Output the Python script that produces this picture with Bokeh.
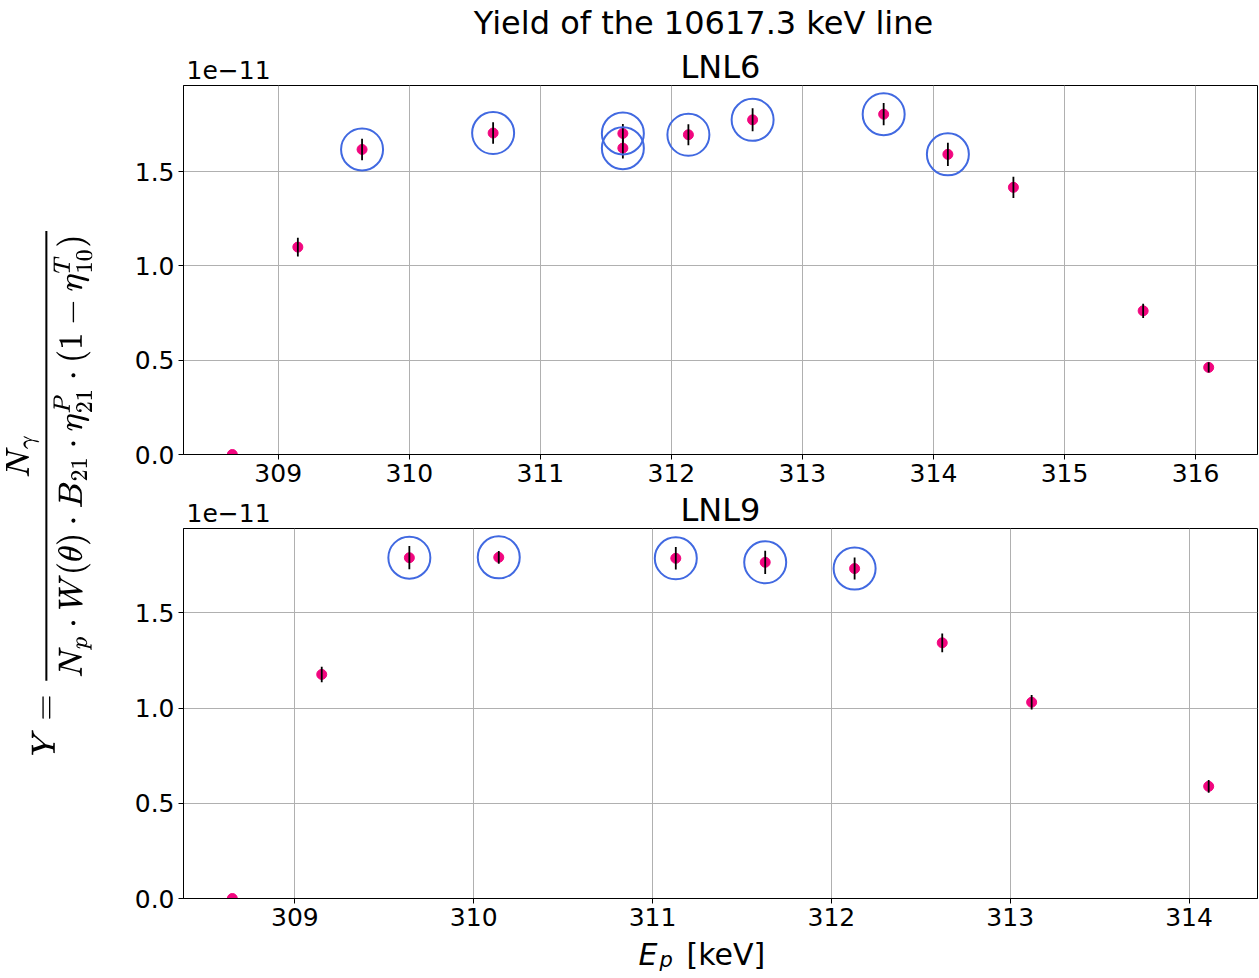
import numpy as np
from bokeh.plotting import figure
from bokeh.layouts import row, column
from bokeh.models import Range1d, FixedTicker, Label, NumeralTickFormatter
from bokeh.embed import file_html
from bokeh.resources import INLINE

FONT = "DejaVu Sans"
POINT_COLOR = "#f2067f"
RING_COLOR = "#4169e1"

# Proton energy [keV], yield (in units of 1e-11) and its uncertainty
lnl6_energy = [308.65, 309.15, 309.64, 310.64, 311.63, 311.63, 312.13,
               312.62, 313.62, 314.11, 314.61, 315.60, 316.10]
lnl6_yield = [0.0, 1.100, 1.618, 1.705, 1.703, 1.625, 1.696,
              1.775, 1.805, 1.592, 1.417, 0.762, 0.462]
lnl6_error = [0.0, 0.050, 0.057, 0.057, 0.050, 0.055, 0.056,
              0.061, 0.059, 0.062, 0.056, 0.038, 0.027]
lnl6_plateau = [False, False, True, True, True, True, True,
                True, True, True, False, False, False]

lnl9_energy = [308.65, 309.15, 309.64, 310.14, 311.13, 311.63, 312.13,
               312.62, 313.12, 314.11]
lnl9_yield = [0.0, 1.177, 1.790, 1.792, 1.787, 1.766, 1.733,
              1.343, 1.031, 0.589]
lnl9_error = [0.0, 0.041, 0.061, 0.033, 0.059, 0.061, 0.058,
              0.049, 0.038, 0.034]
lnl9_plateau = [False, False, True, True, True, True, True,
                False, False, False]

lnl6_xticks = [309, 310, 311, 312, 313, 314, 315, 316]
lnl9_xticks = [309, 310, 311, 312, 313, 314]
y_ticks = [0.0, 0.5, 1.0, 1.5]

LEFT = 73          # room for the y tick labels
FRAME_W = 1074
RIGHT = 2
PANEL_W = LEFT + FRAME_W + RIGHT
BASELINE_SHIFT = 12  # alphabetic-baseline labels land this far below their y


def text_strip(height):
    """An empty, axis-less strip used to hold free-standing texts.
    The column aligns its frame with the plot frames, so x is measured
    from the left edge of the data area."""
    s = figure(frame_width=PANEL_W, frame_height=height,
               min_border_left=0, min_border_right=0,
               min_border_top=0, min_border_bottom=0,
               x_range=Range1d(0, 1), y_range=Range1d(0, 1),
               x_axis_location=None, y_axis_location=None,
               toolbar_location=None, output_backend="svg",
               outline_line_color=None, background_fill_color="white",
               border_fill_color="white")
    s.grid.visible = False
    return s


def add_text(strip, x, baseline, text, size, align="left", style="normal"):
    """Place text so that its baseline sits `baseline` px above the strip bottom."""
    strip.add_layout(Label(x=x, y=baseline + BASELINE_SHIFT,
                           x_units="screen", y_units="screen",
                           text=text, text_font=FONT, text_font_size=size,
                           text_font_style=style, text_align=align,
                           text_baseline="alphabetic", text_color="black"))


def make_panel(energy, yld, err, plateau, xticks, frame_height):
    e = np.asarray(energy)
    y = np.asarray(yld)
    s = np.asarray(err)
    sel = np.asarray(plateau)
    span = e.max() - e.min()
    p = figure(frame_width=FRAME_W, frame_height=frame_height,
               min_border_left=LEFT, min_border_right=RIGHT,
               min_border_top=0, min_border_bottom=38,
               x_range=Range1d(e.min() - 0.05 * span, e.max() + 0.05 * span),
               y_range=Range1d(0, (y + s).max() * 1.05),
               toolbar_location=None, output_backend="svg",
               background_fill_color="white", border_fill_color="white",
               outline_line_color="black", outline_line_width=1)

    p.grid.grid_line_color = "#b0b0b0"
    p.grid.grid_line_width = 1
    p.xaxis.ticker = FixedTicker(ticks=xticks)
    p.yaxis.ticker = FixedTicker(ticks=y_ticks)
    p.yaxis.formatter = NumeralTickFormatter(format="0.0")
    for ax in (p.xaxis, p.yaxis):
        ax.major_label_text_font = FONT
        ax.major_label_text_font_size = "25px"
        ax.major_label_text_color = "black"
        ax.axis_line_color = "black"
        ax.axis_line_width = 1
        ax.major_tick_line_color = "black"
        ax.major_tick_out = 5
        ax.major_tick_in = 0
        ax.minor_tick_line_color = None
    p.xaxis.major_label_standoff = 4
    p.yaxis.major_label_standoff = 4

    p.scatter(e, y, size=10, fill_color=POINT_COLOR, line_color=POINT_COLOR)
    p.segment(x0=e, y0=y - s, x1=e, y1=y + s, line_color="black", line_width=1.8)
    p.scatter(e[sel], y[sel], size=42, fill_color=None,
              line_color=RING_COLOR, line_width=2)
    return p


# Header: overall title, offset text and LNL6 subtitle
head6 = text_strip(85)
add_text(head6, 520, 51, "Yield of the 10617.3 keV line", "32px", align="center")
add_text(head6, 3, 4, "1e\u221211", "25px")
add_text(head6, FRAME_W / 2, 7, "LNL6", "32px", align="center")

top = make_panel(lnl6_energy, lnl6_yield, lnl6_error, lnl6_plateau,
                 lnl6_xticks, 369)

head9 = text_strip(36)
add_text(head9, 3, 4, "1e\u221211", "25px")
add_text(head9, FRAME_W / 2, 7, "LNL9", "32px", align="center")

bottom = make_panel(lnl9_energy, lnl9_yield, lnl9_error, lnl9_plateau,
                    lnl9_xticks, 370)

# Shared x-axis label: E_p [keV]
foot = text_strip(42)
add_text(foot, 455, 12, "E", "30px", style="italic")
add_text(foot, 476, 7, "p", "21px", style="italic")
add_text(foot, 503, 12, "[keV]", "30px")

# Shared y-axis label carrying the yield definition
ylab = figure(frame_width=18, frame_height=974, min_border_left=92,
              min_border_right=0, min_border_top=4, min_border_bottom=0,
              x_range=Range1d(0, 1), y_range=Range1d(0, 1),
              x_axis_location=None, toolbar_location=None,
              output_backend="svg", outline_line_color=None,
              background_fill_color="white", border_fill_color="white")
ylab.grid.visible = False
ylab.yaxis.ticker = FixedTicker(ticks=[])
ylab.yaxis.axis_line_color = None
ylab.yaxis.major_tick_line_color = None
ylab.yaxis.minor_tick_line_color = None
ylab.yaxis.major_tick_out = 0
ylab.yaxis.major_label_standoff = 0
ylab.yaxis.axis_label_standoff = 0
ylab.yaxis.axis_label = (r"$$Y = \frac{N_\gamma}{N_p \cdot W(\theta) \cdot B_{21}"
                         r" \cdot \eta^{P}_{21} \cdot (1-\eta^{T}_{10})}$$")
ylab.yaxis.axis_label_text_font_size = "28px"
ylab.yaxis.axis_label_text_color = "black"

layout = row(ylab, column(head6, top, head9, bottom, foot))

open("out.html", "w").write(file_html(layout, INLINE))
